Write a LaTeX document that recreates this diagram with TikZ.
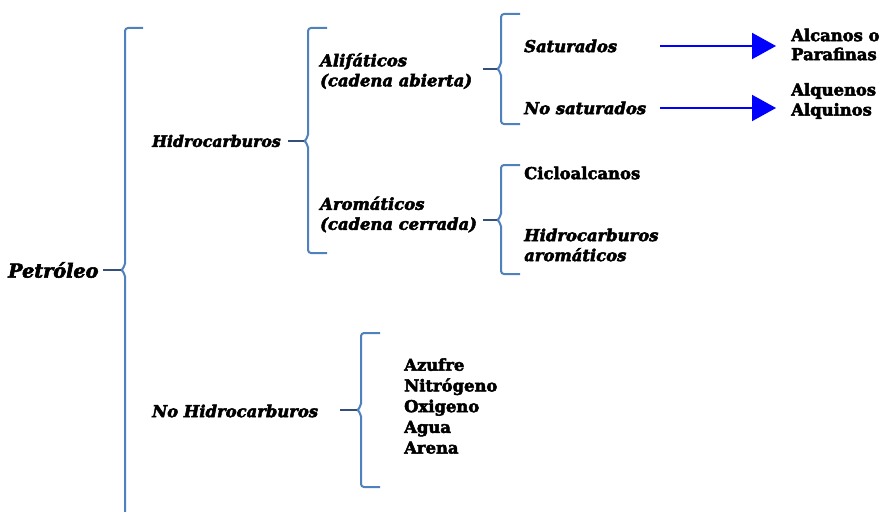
\documentclass[tikz,border=0pt]{standalone}
\usepackage{fontspec}
\setmainfont{DejaVu Serif}[BoldFeatures={FakeBold=3},BoldItalicFeatures={FakeBold=3}]
\usetikzlibrary{arrows.meta}
\definecolor{bracecol}{HTML}{4F81BD}
\definecolor{tickcol}{HTML}{34507A}
\definecolor{arrcol}{HTML}{0000FF}
\newcommand{\mybrk}[5]{% x, top, mid, bottom, tick x
  \draw[brk] (#1+19,#2) -- (#1,#2) -- (#1,#3-4) to[out=90,in=0] (#1-4,#3);
  \draw[brk] (#1-4,#3) to[out=0,in=-90] (#1,#3+4) -- (#1,#4) -- (#1+19,#4);
  \draw[tickline] (#5,#3) -- (#1-4,#3);
}
\begin{document}
\begin{tikzpicture}[x=1pt,y=-1pt,
  lab/.style={anchor=west, inner sep=0pt, align=left, font=\bfseries\itshape\fontsize{16.4}{20}\selectfont},
  labup/.style={anchor=west, inner sep=0pt, align=left, font=\bfseries\fontsize{16.4}{20.7}\selectfont},
  brk/.style={draw=bracecol, line width=2pt, rounded corners=3pt},
  tickline/.style={draw=tickcol, line width=2pt},
  arrow/.style={draw=arrcol, line width=2pt, -{Triangle[length=24pt,width=26pt]}}]
\useasboundingbox[fill=white] (0,0) rectangle (882,511);

% brackets
\draw[brk] (143,28) -- (125,28) -- (125,266) to[out=90,in=0] (121,270);
\draw[brk] (121,270) to[out=0,in=-90] (125,274) -- (125,515);
\draw[tickline] (103,270) -- (121,270);
\mybrk{308}{28}{141}{253}{288}
\mybrk{501}{14}{69}{124}{483}
\mybrk{501}{165}{220}{274}{483}
\mybrk{361}{333}{410}{487}{340}

% labels
\node[lab, font=\bfseries\itshape\fontsize{19.2}{20}\selectfont] (pet) at (8,270) {Petróleo};
\node[lab, font=\bfseries\itshape\fontsize{15.7}{20}\selectfont] (hid) at (152,141) {Hidrocarburos};
\node[lab] (nohid) at (152,411) {No Hidrocarburos};
\node[lab] (alif) at (320,71) {Alifáticos\\(cadena abierta)};
\node[lab] (arom) at (320,214.5) {Aromáticos\\(cadena cerrada)};
\node[lab] (sat) at (524,46) {Saturados};
\node[lab] (nosat) at (524,108) {No saturados};
\node[labup] (ciclo) at (524,173) {Cicloalcanos};
\node[lab] (hidar) at (524,245) {Hidrocarburos\\aromáticos};
\node[labup, font=\bfseries\fontsize{16.4}{19}\selectfont] (alc) at (791,44.5) {Alcanos o\\Parafinas};
\node[labup, font=\bfseries\fontsize{16.4}{20}\selectfont] (alq) at (791,101) {Alquenos\\Alquinos};
\node[labup] (lista) at (404,406) {Azufre\\Nitrógeno\\Oxigeno\\Agua\\Arena};

% arrows
\coordinate (a1s) at (660,46);
\coordinate (a1e) at (776,46);
\coordinate (a2s) at (660,108);
\coordinate (a2e) at (776,108);
\draw[arrow] (a1s) -- (a1e);
\draw[arrow] (a2s) -- (a2e);
\end{tikzpicture}
\end{document}
